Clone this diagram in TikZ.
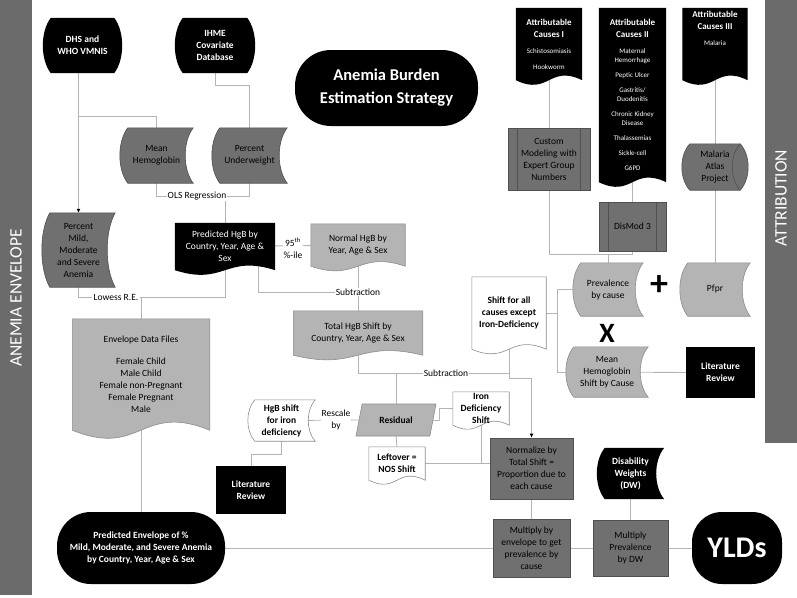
\documentclass[tikz,border=0pt]{standalone}
\usepackage{fontspec}
\setmainfont{Carlito}
\usetikzlibrary{arrows.meta, positioning, calc, shapes.geometric}
\definecolor{boxdark}{HTML}{707070}
\definecolor{boxlight}{HTML}{B4B4B4}
\definecolor{darkedge}{HTML}{505050}
\definecolor{lightedge}{HTML}{8C8C8C}
\definecolor{bargray}{HTML}{6B6B6B}
\definecolor{linkgray}{HTML}{B4B4B4}
\pgfdeclarelayer{bg}
\pgfsetlayers{bg,main}

% shapes drawn around a named node: [depth]{node}{style}
\newcommand{\storedshape}[3][8]{%
  \path[#3] ($(#2.north west)+(#1,0)$) -- (#2.north east)
    .. controls ($(#2.north east)!.25!(#2.south east)+(-1.33*#1,0)$) and ($(#2.north east)!.75!(#2.south east)+(-1.33*#1,0)$) .. (#2.south east)
    -- ($(#2.south west)+(#1,0)$)
    .. controls ($(#2.south west)!.25!(#2.north west)+(-0.33*#1,0)$) and ($(#2.south west)!.75!(#2.north west)+(-0.33*#1,0)$) .. cycle;}
\newcommand{\barrelshape}[3][8]{%
  \path[#3] ($(#2.north west)+(#1,0)$) -- ($(#2.north east)+(-#1,0)$)
    .. controls ($(#2.north east)!.25!(#2.south east)+(0.33*#1,0)$) and ($(#2.north east)!.75!(#2.south east)+(0.33*#1,0)$) .. ($(#2.south east)+(-#1,0)$)
    -- ($(#2.south west)+(#1,0)$)
    .. controls ($(#2.south west)!.25!(#2.north west)+(-0.33*#1,0)$) and ($(#2.south west)!.75!(#2.north west)+(-0.33*#1,0)$) .. cycle;}
\newcommand{\drumarc}[2][8]{%
  \draw[darkedge, line width=0.6pt] ($(#2.north east)+(-#1,0)$)
    .. controls ($(#2.north east)!.25!(#2.south east)+(-2.33*#1,0)$) and ($(#2.north east)!.75!(#2.south east)+(-2.33*#1,0)$) .. ($(#2.south east)+(-#1,0)$);}
\newcommand{\docshape}[3][16]{%
  \path[#3] (#2.north west) -- (#2.north east) -- (#2.south east)
    .. controls ($(#2.south)+(0,-#1)$) and ($(#2.south)+(0,#1)$) .. (#2.south west) -- cycle;}
\newcommand{\proclines}[1]{%
  \draw[darkedge, line width=0.6pt] ($(#1.north west)+(10,0)$) -- ($(#1.south west)+(10,0)$)
    ($(#1.north east)+(-10,0)$) -- ($(#1.south east)+(-10,0)$);}
\newcommand{\causehead}[1]{{\bfseries\fontsize{9}{12}\selectfont #1}}

\begin{document}
\begin{tikzpicture}[x=1pt, y=-1pt,
    every node/.style={font=\fontsize{9.5}{12}\selectfont},
    boxsz/.style 2 args={minimum width=#1, minimum height=#2, align=center, inner sep=0pt},
    wtext/.style={text=white, font=\bfseries\fontsize{9.5}{12}\selectfont},
    btext/.style={font=\bfseries\fontsize{9.5}{12}\selectfont},
    causes/.style={text=white, font=\fontsize{7}{9}\selectfont},
    bartext/.style={rotate=90, text=white, font=\fontsize{17.5}{20}\selectfont},
    lbl/.style={fill=white, inner sep=1pt},
    link/.style={draw=linkgray, line width=0.9pt},
    blackfill/.style={fill=black},
    darkfill/.style={fill=boxdark, draw=darkedge, line width=0.6pt},
    lightfill/.style={fill=boxlight, draw=lightedge, line width=0.6pt},
    whitefill/.style={fill=white, draw=lightedge, line width=0.6pt}]
\useasboundingbox (0,0) rectangle (797,597);

% side bars
\fill[bargray] (0,0) rectangle (32,595);
\fill[bargray] (765,0) rectangle (797,443);
\node[bartext] (envtitle) at (16,298) {ANEMIA ENVELOPE};
\node[bartext] (attrtitle) at (781,198) {ATTRIBUTION};

\node[boxsz={183}{76}, fill=black, rounded corners=36, text=white,
    font=\bfseries\fontsize{16.5}{23}\selectfont] (title) at (386.5,88) {Anemia Burden\\Estimation Strategy};

% anemia envelope
\node[boxsz={79}{55}, wtext] (dhs) at (82.5,45.5) {DHS and\\WHO VMNIS};
\node[boxsz={80}{55}, wtext] (ihme) at (215,45.5) {IHME\\Covariate\\Database};
\node[boxsz={73}{55}] (meanhb) at (156.5,155.5) {Mean\\Hemoglobin};
\node[boxsz={75}{55}] (pctuw) at (249.5,155.5) {Percent\\Underweight};
\node[boxsz={73}{74}] (pctmild) at (78.5,250) {Percent\\Mild,\\Moderate\\and Severe\\Anemia};
\node[boxsz={100}{47}, text=white] (predhgb) at (225,246.5) {Predicted HgB by\\Country, Year, Age \&\\Sex};
\node[boxsz={94}{42}] (normhgb) at (358,245) {Normal HgB by\\Year, Age \& Sex};
\node[boxsz={129}{44}] (totshift) at (358,333) {Total HgB Shift by\\Country, Year, Age \& Sex};
\node[boxsz={137}{111}] (envfiles) at (141,374.5) {Envelope Data Files\\[10pt]Female Child\\Male Child\\Female non-Pregnant\\Female Pregnant\\Male};
\node[boxsz={168}{72}, fill=black, rounded corners=34, wtext] (predenv) at (141,548)
    {Predicted Envelope of \%\\Mild, Moderate, and Severe Anemia\\by Country, Year, Age \& Sex};

% attribution
\node[boxsz={66}{72}, causes] (causesI) at (549,44)
    {\causehead{Attributable}\\[3pt]\causehead{Causes I}\\[7pt]Schistosomiasis\\[7pt]Hookworm};
\node[boxsz={67}{174}, causes] (causesII) at (632.5,95)
    {\causehead{Attributable}\\[3pt]\causehead{Causes II}\\[7pt]Maternal\\Hemorrhage\\[6pt]Peptic Ulcer\\[6pt]Gastritis/\\Duodenitis\\[6pt]Chronic Kidney\\Disease\\[6pt]Thalassemias\\[6pt]Sickle-cell\\[6pt]G6PD};
\node[boxsz={65}{72}, causes] (causesIII) at (715,44)
    {\causehead{Attributable}\\[3pt]\causehead{Causes III}\\[7pt]Malaria\\[22pt]};
\node[boxsz={82}{62}, darkfill] (custom) at (549,159) {Custom\\Modeling with\\Expert Group\\Numbers};
\proclines{custom}
\node[boxsz={67}{49}, darkfill] (dismod) at (632.5,226.5) {DisMod 3};
\proclines{dismod}
\node[boxsz={66}{46}] (malaria) at (715,167) {Malaria\\Atlas\\Project};
\node[boxsz={70}{53}] (prev) at (608,289.5) {Prevalence\\by cause};
\node[boxsz={70}{53}] (pfpr) at (715,289.5) {Pfpr};
\node[font=\bfseries\fontsize{36}{36}\selectfont, inner sep=0pt] (plus) at (659,286) {+};
\node[font=\bfseries\fontsize{28}{28}\selectfont, inner sep=0pt] (times) at (607,333) {X};
\node[boxsz={82}{50}] (meanshift) at (607,372) {Mean\\Hemoglobin\\Shift by Cause};
\node[boxsz={69}{51}, fill=black, wtext] (litrev1) at (720.5,372.5) {Literature\\Review};
\node[boxsz={74}{72}, btext] (shiftall) at (509,313) {Shift for all\\causes except\\Iron-Deficiency};

% residual and shifts
\node[trapezium, trapezium left angle=66, trapezium right angle=114, trapezium stretches=true,
    minimum width=80, minimum height=32, inner sep=0pt, lightfill, btext] (residual) at (396,420) {Residual};
\node[boxsz={56}{33}, btext] (ironshift) at (481,408.5) {Iron\\Deficiency\\Shift};
\node[boxsz={67}{41}, btext] (hgbiron) at (281.5,420.5) {HgB shift\\for iron\\deficiency};
\node[boxsz={70}{48}, fill=black, wtext] (litrev2) at (251,490) {Literature\\Review};
\node[boxsz={56}{33}, btext] (leftover) at (397,463.5) {Leftover =\\NOS Shift};
\node[boxsz={83}{61}, darkfill] (normalize) at (531.5,468.5) {Normalize by\\Total Shift =\\Proportion due to\\each cause};
\node[boxsz={77}{58}, darkfill] (multenv) at (531.5,548) {Multiply by\\envelope to get\\prevalence by\\cause};
\node[boxsz={67}{51}, wtext] (dw) at (630.5,473.5) {Disability\\Weights\\(DW)};
\node[boxsz={75}{56}, darkfill] (multdw) at (630.5,548) {Multiply\\Prevalence\\by DW};
\node[boxsz={90}{72}, fill=black, rounded corners=30, text=white,
    font=\bfseries\fontsize{30}{32}\selectfont] (ylds) at (737,548) {YLDs};

% connector labels
\node[lbl] (ols) at (197,196) {OLS Regression};
\node[lbl] (lowess) at (116,297) {Lowess R.E.};
\node[lbl, align=center] (pct95) at (293,248) {95\textsuperscript{th}\\\%-ile};
\node[lbl] (sub1) at (358,292) {Subtraction};
\node[lbl] (sub2) at (446,373) {Subtraction};
\node[lbl, align=center] (rescale) at (336,420) {Rescale\\by};

\coordinate (jprev) at ($(prev.north)+(0,-8)$);
\coordinate (jshift) at ($(shiftall.east)+(11,0)$);

\begin{pgfonlayer}{bg}
% connectors
\draw[link] (pctmild.north |- dhs.south) |- ($(meanhb.north)+(0,-11)$) -- (meanhb.north);
\draw[link, -{Latex[length=4pt, width=4pt, color=black]}] (pctmild.north |- dhs.south) -- (pctmild.north);
\draw[link] (ihme.south) |- ($(pctuw.north)+(0,-42)$) -- (pctuw.north);
\draw[link] (meanhb.south) |- (ols);
\draw[link] (ols) -| (pctuw.south);
\draw[link] (predhgb.north) -- (predhgb.north |- ols);
\draw[link] (pctmild.south) |- (lowess);
\draw[link] (lowess) -| (predhgb.south);
\draw[link] (envfiles.north) -- (envfiles.north |- lowess);
\draw[link] (predhgb.center) -- (normhgb.center);
\draw[link] ($(predhgb.south)+(33,-8)$) |- (sub1);
\draw[link] (normhgb.south) -- (totshift.north);
\draw[link] (envfiles.south) -- (predenv.north);
\draw[link] (predenv.east) -- (multenv.west);
\draw[link] (multenv.east) -- (multdw.west);
\draw[link] (multdw.east) -- (ylds.west);
\draw[link] (normalize.south) -- (multenv.north);
\draw[link] (dw.center) -- (multdw.north);
\draw[link] (causesI.south) -- (custom.north);
\draw[link] (causesII.south) -- (dismod.north);
\draw[link] (causesIII.south) -- (malaria.north);
\draw[link] (malaria.center) -- (pfpr.center);
\draw[link] (custom.south) |- (jprev) -- (prev.center);
\draw[link] (dismod.south) |- (jprev);
\draw[link] (shiftall.center) -- (jshift) |- (prev.center);
\draw[link] (jshift) |- (meanshift.center);
\draw[link] (meanshift.center) -- (litrev1.west);
\draw[link, -{Latex[length=4pt, width=4pt, color=black]}] (shiftall.south) -- ($(shiftall.south)+(0,29)$) -| (normalize.north);
\draw[link] (totshift.south) |- (sub2) -- (sub2 -| shiftall.south);
\draw[link] (residual.north) -- (residual.north |- sub2);
\draw[link] (hgbiron.center) -- (residual.west);
\draw[link] (residual.east) -- ++(6,0) |- (ironshift.west);
\draw[link] (hgbiron.south) |- ($(litrev2.north)+(0,-11)$) -- (litrev2.north);
\draw[link] (residual.south) -- (leftover.north);
\draw[link] (leftover.center) -- (leftover.center -| normalize.west);
\draw[link] (ironshift.south) -- (ironshift.south |- leftover.center);
% shapes behind the texts
\barrelshape{dhs}{blackfill}
\barrelshape{ihme}{blackfill}
\storedshape{meanhb}{darkfill}
\storedshape{pctuw}{darkfill}
\storedshape{pctmild}{darkfill}
\docshape{predhgb}{blackfill}
\docshape{normhgb}{lightfill}
\docshape{totshift}{lightfill}
\docshape[28]{envfiles}{lightfill}
\docshape{causesI}{blackfill}
\docshape{causesII}{blackfill}
\docshape{causesIII}{blackfill}
\barrelshape{malaria}{darkfill}
\drumarc{malaria}
\storedshape{prev}{lightfill}
\storedshape{pfpr}{lightfill}
\storedshape{meanshift}{lightfill}
\docshape{shiftall}{whitefill}
\docshape[14]{ironshift}{whitefill}
\storedshape[7]{hgbiron}{whitefill}
\docshape[14]{leftover}{whitefill}
\storedshape{dw}{blackfill}
\end{pgfonlayer}
\end{tikzpicture}
\end{document}
